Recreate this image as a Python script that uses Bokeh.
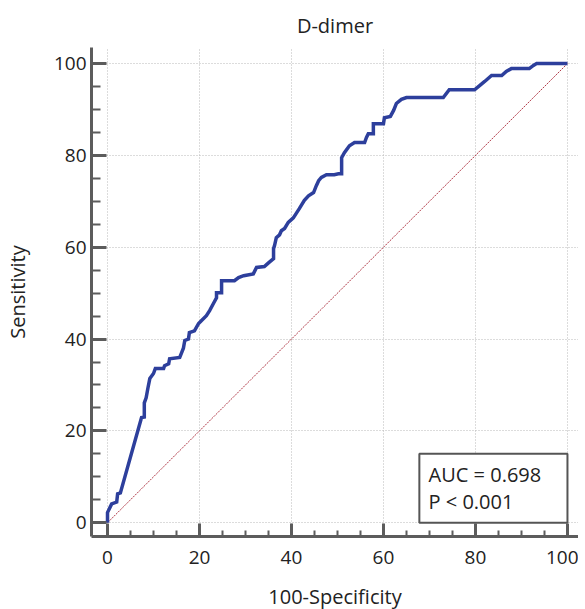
from bokeh.plotting import figure
from bokeh.models import Range1d, SingleIntervalTicker, BoxAnnotation, Label
from bokeh.embed import file_html
from bokeh.resources import INLINE

# ROC curve values (100-Specificity, Sensitivity)
fpr = [0, 0, 0.9, 2.0, 2.2, 2.8, 7.4, 8.0, 8.0, 8.4, 8.8, 9.2, 10.0, 10.4, 12.2, 12.4,
       13.3, 13.5, 15.7, 16.1, 16.5, 16.8, 17.6, 17.8, 18.9, 19.8, 20.4, 21.5, 22.2,
       23.0, 23.7, 23.7, 24.8, 24.8, 27.6, 28.5, 29.6, 31.7, 32.4, 34.1, 35.0, 36.1,
       36.1, 36.3, 36.7, 37.4, 37.8, 38.5, 39.3, 40.4, 41.7, 42.8, 43.7, 44.8, 45.4,
       45.9, 46.5, 47.6, 49.3, 50.2, 50.9, 50.9, 51.5, 52.6, 53.7, 55.9, 56.3, 56.7,
       57.8, 57.8, 60.0, 60.2, 61.5, 62.2, 62.8, 63.9, 65.0, 73.0, 74.3, 79.8, 80.9,
       82.0, 83.5, 85.7, 86.7, 87.8, 91.7, 92.6, 93.3, 100]
tpr = [0, 2.2, 4.1, 4.5, 6.3, 6.5, 22.9, 23.0, 26.1, 27.2, 29.4, 31.4, 32.5, 33.6, 33.6, 34.2,
       34.6, 35.7, 36.0, 37.0, 38.0, 39.7, 40.0, 41.4, 41.8, 43.4, 44.0, 45.1, 46.2,
       47.7, 49.0, 50.1, 50.1, 52.7, 52.7, 53.4, 53.8, 54.2, 55.6, 55.8, 56.6, 57.5,
       59.7, 60.3, 62.1, 62.7, 63.6, 64.1, 65.4, 66.4, 68.4, 70.2, 71.2, 71.9, 73.4,
       74.5, 75.2, 75.8, 75.8, 76.0, 76.0, 79.5, 80.6, 82.1, 82.8, 82.8, 83.9, 84.7,
       84.7, 86.9, 86.9, 88.2, 88.5, 89.8, 91.3, 92.2, 92.6, 92.6, 94.3, 94.3, 95.2,
       96.1, 97.4, 97.4, 98.3, 98.9, 98.9, 99.6, 100, 100]
chance_x = [0, 100]
chance_y = [0, 100]
auc_text = "AUC = 0.698"
p_text = "P < 0.001"

FONT = "Open Sans"
AXC = "#5c5c5c"

p = figure(frame_width=487, frame_height=489, output_backend="svg", toolbar_location=None,
           x_range=Range1d(-3.48, 102.4), y_range=Range1d(-3.0, 103.5),
           min_border_left=82, min_border_right=0, min_border_top=45, min_border_bottom=0)
p.outline_line_color = None
p.background_fill_color = "white"

p.title.text = "D-dimer"
p.title.align = "center"
p.title.offset = 5
p.title.text_font = FONT
p.title.text_font_size = "20px"
p.title.text_font_style = "normal"
p.title.text_color = "#222222"
p.title.standoff = 18

for ax in (p.xaxis[0], p.yaxis[0]):
    ax.ticker = SingleIntervalTicker(interval=20, num_minor_ticks=4)
    ax.axis_line_color = AXC
    ax.axis_line_width = 3
    ax.major_tick_line_color = AXC
    ax.major_tick_line_width = 3
    ax.minor_tick_line_color = AXC
    ax.minor_tick_line_width = 2
    ax.major_tick_out = 0
    ax.minor_tick_out = 0
    ax.major_label_text_font = FONT
    ax.major_label_text_font_size = "19px"
    ax.major_label_text_color = "#222222"
    ax.axis_label_text_font = FONT
    ax.axis_label_text_font_size = "20px"
    ax.axis_label_text_font_style = "normal"
    ax.axis_label_text_color = "#222222"

p.xaxis.major_tick_in = 13
p.xaxis.minor_tick_in = 6
p.yaxis.major_tick_in = 15
p.yaxis.minor_tick_in = 9
p.xaxis.major_label_standoff = 14
p.yaxis.major_label_standoff = 5
p.xaxis.axis_label = "100-Specificity"
p.yaxis.axis_label = "Sensitivity"
p.xaxis.axis_label_standoff = 16
p.yaxis.axis_label_standoff = 20

for g in (p.xgrid[0], p.ygrid[0]):
    g.ticker = SingleIntervalTicker(interval=20)
    g.grid_line_color = "#b8b8b8"
    g.grid_line_width = 1
    g.grid_line_dash = "1 2"

p.line(chance_x, chance_y, line_color="#b03a48", line_width=1, line_dash="2 1")
p.line(fpr, tpr, line_color="#2d3f9c", line_width=3.5, line_join="miter")

box = BoxAnnotation(left=67.8, right=100, bottom=0, top=15,
                    fill_color="white", fill_alpha=1.0,
                    line_color="#555555", line_width=2, line_alpha=1.0)
p.add_layout(box)
p.add_layout(Label(x=69.8, y=10.4, text=auc_text, text_font=FONT, text_font_size="20px",
                   text_color="#222222", text_baseline="middle"))
p.add_layout(Label(x=69.8, y=4.6, text=p_text, text_font=FONT, text_font_size="20px",
                   text_color="#222222", text_baseline="middle"))

open("out.html", "w").write(file_html(p, INLINE))
